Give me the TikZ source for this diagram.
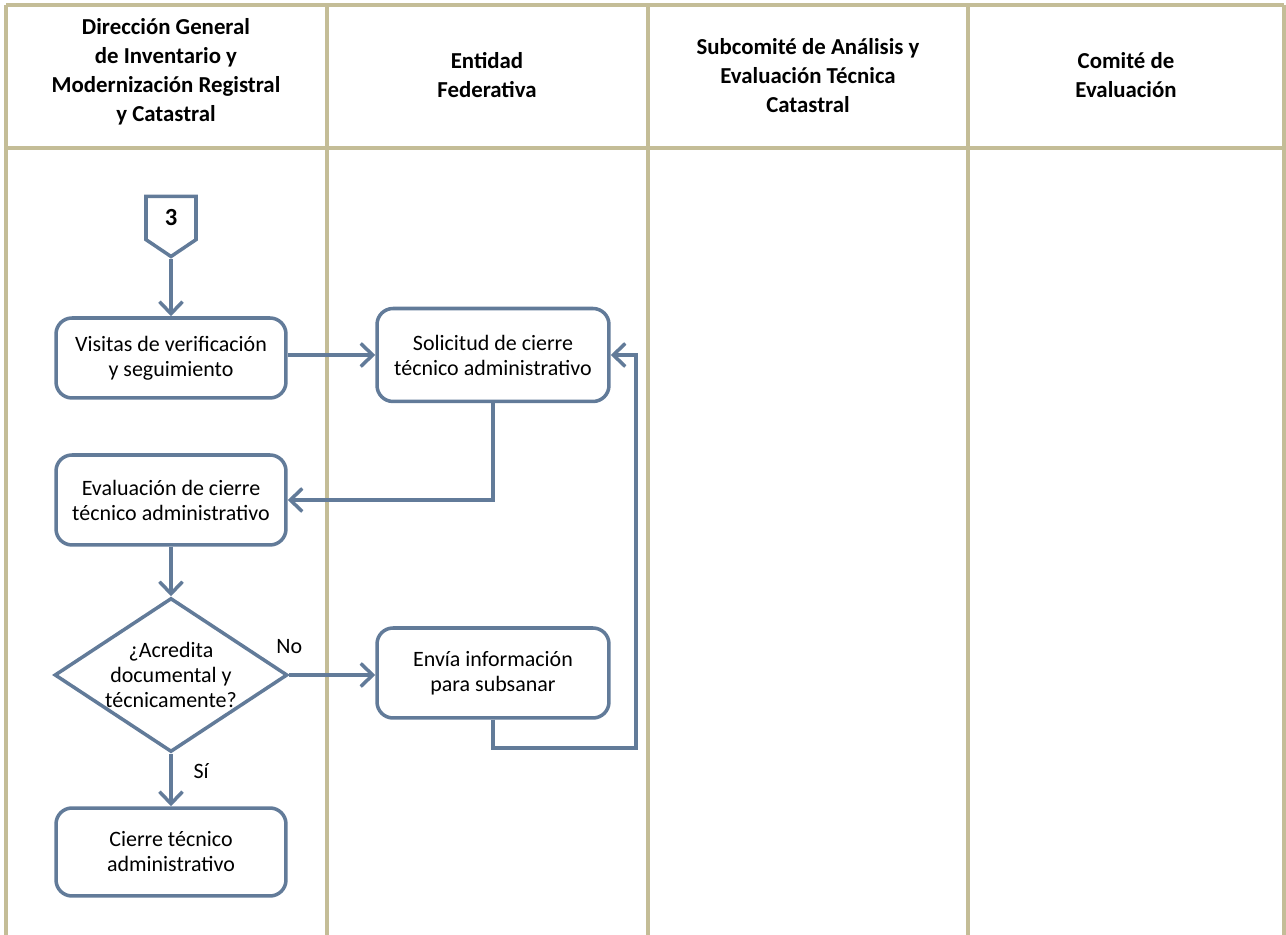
\documentclass[tikz,border=0pt]{standalone}
\usepackage{fontspec}
\setmainfont{Carlito}
\usetikzlibrary{shapes.geometric,shapes.symbols,arrows.meta}

\definecolor{lanetan}{RGB}{196,189,151}
\definecolor{flowblue}{RGB}{98,123,153}

\tikzset{
    lane/.style={draw=lanetan, line width=2pt},
    lanehead/.style={align=center, font=\bfseries\fontsize{13}{16.5}\selectfont},
    proc/.style={draw=flowblue, line width=2pt, rounded corners=0.32cm, fill=white,
        minimum width=4.6cm, minimum height=1.8cm, align=center,
        font=\fontsize{12.5}{14.2}\selectfont},
    decision/.style={draw=flowblue, line width=2pt, diamond, fill=white,
        minimum width=4.66cm, minimum height=3.08cm, inner sep=0pt},
    offpage/.style={draw=flowblue, line width=2pt, signal, signal to=south,
        signal pointer angle=112, minimum width=1.0cm, minimum height=0.95cm,
        inner sep=0pt, font=\bfseries\fontsize{14}{16}\selectfont},
    flow/.style={draw=flowblue, line width=2pt, -{Straight Barb[length=2.4mm,width=4.6mm]}},
    flowlabel/.style={align=center, font=\fontsize{12.5}{14.2}\selectfont},
}

\begin{document}
\begin{tikzpicture}[x=0.02cm, y=-0.02cm]
    \useasboundingbox (0,0) rectangle (1286,935);

    % swimlanes
    \foreach \x in {6, 327, 648, 968, 1284}
        \draw[lane] (\x,5) -- (\x,935);
    \draw[lane] (6,5) -- (1284,5);
    \draw[lane] (6,148) -- (1284,148);

    \node[lanehead] (dgimrc) at (166,72) {Dirección General\\de Inventario y\\Modernización Registral\\y Catastral};
    \node[lanehead] (entidad) at (487,75) {Entidad\\Federativa};
    \node[lanehead] (subcomite) at (808,76) {Subcomité de Análisis y\\Evaluación Técnica\\Catastral};
    \node[lanehead] (comite) at (1126,75) {Comité de\\Evaluación};

    % shapes
    \node[offpage] (off3) at (171,218) {3};
    \node[proc, minimum height=1.6cm] (visitas) at (171,358) {Visitas de verificación\\y seguimiento};
    \node[proc, minimum width=4.64cm, minimum height=1.86cm] (solicitud) at (493,355) {Solicitud de cierre\\técnico administrativo};
    \node[proc] (evaluacion) at (171,500) {Evaluación de cierre\\técnico administrativo};
    \node[decision] (acredita) at (171,675) {};
    \node[flowlabel] (acreditatext) at (acredita) {¿Acredita\\documental y\\técnicamente?};
    \node[proc, minimum width=4.64cm] (envia) at (493,673) {Envía información\\para subsanar};
    \node[proc, minimum height=1.76cm] (cierre) at (171,852) {Cierre técnico\\administrativo};
    \coordinate (loopcorner) at (636,748);

    % connectors
    \draw[flow] (off3.south) -- (visitas.north);
    \draw[flow] (visitas.east |- solicitud.west) -- (solicitud.west);
    \draw[flow] (solicitud.south) |- (evaluacion.east);
    \draw[flow] (evaluacion.south) -- (acredita.north);
    \draw[flow] (acredita.east) -- node[flowlabel, pos=0, above=0.28cm] {No} (acredita.east -| envia.west);
    \draw[flow] (acredita.south) -- node[flowlabel, pos=0.33, right=0.3cm] {Sí} (cierre.north);
    \draw[flow] (envia.south) |- (loopcorner) |- (solicitud.east);
\end{tikzpicture}
\end{document}
